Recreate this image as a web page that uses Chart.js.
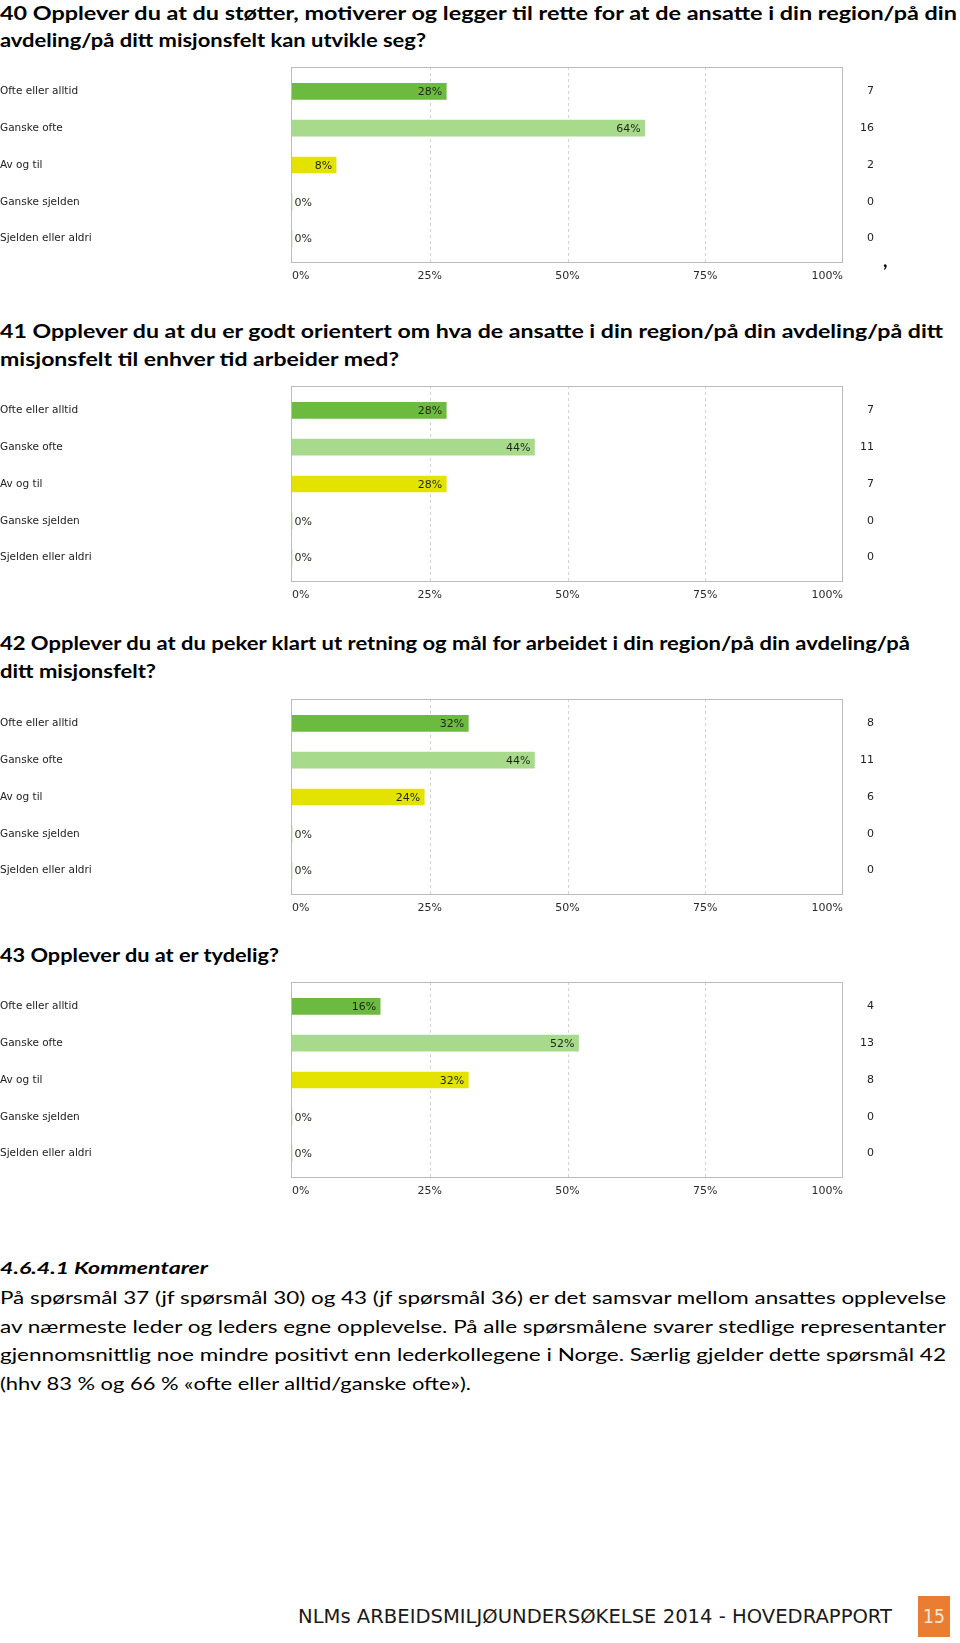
<!DOCTYPE html>
<html lang="no">
<head>
<meta charset="utf-8">
<title>NLMs arbeidsmiljøundersøkelse 2014 - spørsmål 40-43</title>
<script src="https://cdn.jsdelivr.net/npm/chart.js@4.4.1/dist/chart.umd.min.js"></script>
<style>
  html, body { margin: 0; padding: 0; background: #fff; }
  body { position: relative; width: 960px; height: 1643px; overflow: hidden; font-family: Lato, "Open Sans", sans-serif; color: #000; }
  .ln { position: absolute; white-space: nowrap; line-height: 0; width: max-content; transform-origin: 0 0; }
  .tt { font-weight: 700; font-size: 19px; }
  .hd { font-weight: 700; font-style: italic; font-size: 17.5px; }
  .tx { font-size: 17px; }
  .ft { font-family: "DejaVu Sans", sans-serif; font-size: 19px; color: #1a1a1a; }
  .box { position: absolute; left: 918px; top: 1596px; width: 32px; height: 41px; background: #e97d31; }
  canvas { position: absolute; left: 0; }
</style>
</head>
<body>

<div class="ln tt" style="left:0;top:13.4px" data-w="957">40 Opplever du at du støtter, motiverer og legger til rette for at de ansatte i din region/på din</div>
<div class="ln tt" style="left:0;top:40.4px" data-w="426">avdeling/på ditt misjonsfelt kan utvikle seg?</div>
<canvas id="c40" width="960" height="235" style="top:57px"></canvas>
<div class="ln tt" style="left:883px;top:259.6px">,</div>

<div class="ln tt" style="left:0;top:331px" data-w="943">41 Opplever du at du er godt orientert om hva de ansatte i din region/på din avdeling/på ditt</div>
<div class="ln tt" style="left:0;top:358.6px" data-w="399">misjonsfelt til enhver tid arbeider med?</div>
<canvas id="c41" width="960" height="235" style="top:376px"></canvas>

<div class="ln tt" style="left:0;top:642.6px" data-w="910">42 Opplever du at du peker klart ut retning og mål for arbeidet i din region/på din avdeling/på</div>
<div class="ln tt" style="left:0;top:671px" data-w="156">ditt misjonsfelt?</div>
<canvas id="c42" width="960" height="235" style="top:689px"></canvas>

<div class="ln tt" style="left:0;top:955px" data-w="279">43 Opplever du at er tydelig?</div>
<canvas id="c43" width="960" height="235" style="top:972px"></canvas>

<div class="ln hd" style="left:0;top:1268.2px" data-w="208">4.6.4.1 Kommentarer</div>
<div class="ln tx" style="left:0;top:1298px" data-w="946">På spørsmål 37 (jf spørsmål 30) og 43 (jf spørsmål 36) er det samsvar mellom ansattes opplevelse</div>
<div class="ln tx" style="left:0;top:1326.5px" data-w="946">av nærmeste leder og leders egne opplevelse. På alle spørsmålene svarer stedlige representanter</div>
<div class="ln tx" style="left:0;top:1355px" data-w="946">gjennomsnittlig noe mindre positivt enn lederkollegene i Norge. Særlig gjelder dette spørsmål 42</div>
<div class="ln tx" style="left:0;top:1383.5px" data-w="471">(hhv 83 % og 66 % «ofte eller alltid/ganske ofte»).</div>

<div class="ln ft" style="left:298px;top:1615.7px" data-w="594">NLMs ARBEIDSMILJØUNDERSØKELSE 2014 - HOVEDRAPPORT</div>
<div class="box"></div>
<div class="ln ft" style="left:922.5px;top:1615.7px;color:#fbe6d6" data-w="22">15</div>

<script>
const categories = ["Ofte eller alltid", "Ganske ofte", "Av og til", "Ganske sjelden", "Sjelden eller aldri"];
const tickLabels = ["0%", "25%", "50%", "75%", "100%"];

// prosent og antall svar per spørsmål
const q40Percent = [28, 64, 8, 0, 0];
const q40Count = [7, 16, 2, 0, 0];
const q41Percent = [28, 44, 28, 0, 0];
const q41Count = [7, 11, 7, 0, 0];
const q42Percent = [32, 44, 24, 0, 0];
const q42Count = [8, 11, 6, 0, 0];
const q43Percent = [16, 52, 32, 0, 0];
const q43Count = [4, 13, 8, 0, 0];

const barColors = ["#6dba40", "#a8da8b", "#e4e300", "#a8da8b", "#a8da8b"];

Chart.defaults.font.family = "'DejaVu Sans', sans-serif";
Chart.defaults.font.size = 11;

// ramme rundt plottet + stiplede linjer, litt høyere enn selve chartArea
const framePlugin = {
  id: "frame",
  beforeDatasetsDraw(chart) {
    const { ctx, chartArea: a, scales: { x } } = chart;
    const top = a.top - 6, bottom = a.bottom + 5;
    ctx.save();
    ctx.lineWidth = 1;
    ctx.strokeStyle = "#d4d4d4";
    ctx.setLineDash([3, 3]);
    x.ticks.slice(1, -1).forEach(t => {
      const px = Math.round(x.getPixelForValue(t.value)) + 0.5;
      ctx.beginPath();
      ctx.moveTo(px, top);
      ctx.lineTo(px, bottom);
      ctx.stroke();
    });
    ctx.setLineDash([]);
    ctx.strokeStyle = "#bbbbbb";
    const l = Math.round(a.left), r = Math.round(a.right);
    ctx.strokeRect(l - 0.5, top + 0.5, r - l, bottom - top);
    ctx.restore();
  }
};

const valueLabels = {
  id: "valueLabels",
  afterDatasetsDraw(chart) {
    const { ctx } = chart;
    const ds = chart.data.datasets[0];
    ctx.save();
    ctx.font = "11px 'DejaVu Sans'";
    ctx.fillStyle = "#1e2618";
    ctx.textBaseline = "middle";
    chart.getDatasetMeta(0).data.forEach((bar, i) => {
      const v = ds.data[i];
      if (v > 0) {
        ctx.textAlign = "right";
        ctx.fillText(v + "%", bar.x - 4, bar.y + 1);
      } else {
        ctx.textAlign = "left";
        ctx.fillText(v + "%", bar.base + 2.5, bar.y + 1);
      }
    });
    ctx.restore();
  }
};

function makeChart(id, percent, count) {
  return new Chart(document.getElementById(id), {
    type: "bar",
    data: {
      labels: categories,
      datasets: [{
        data: percent,
        backgroundColor: barColors,
        barThickness: 16,
        borderWidth: 0
      }]
    },
    options: {
      indexAxis: "y",
      responsive: false,
      animation: false,
      devicePixelRatio: 1,
      layout: { padding: { top: 16, right: 86, bottom: 0, left: 0 } },
      plugins: { legend: { display: false }, tooltip: { enabled: false } },
      scales: {
        x: {
          type: "linear",
          min: 0,
          max: 100,
          grid: { display: false },
          border: { display: false },
          ticks: {
            stepSize: 25,
            align: "inner",
            padding: 4.5,
            color: "#2a2a2a",
            font: { size: 11 },
            callback: (v, i) => tickLabels[i]
          },
          afterFit: s => { s.height = 35; }
        },
        y: {
          grid: { display: false },
          border: { display: false },
          ticks: { crossAlign: "far", padding: 0, color: "#222", font: { size: 10.5 } },
          afterFit: s => { s.width = 292; }
        },
        y2: {
          type: "category",
          position: "right",
          labels: count.map(String),
          offset: true,
          grid: { display: false },
          border: { display: false },
          ticks: { crossAlign: "far", color: "#222", font: { size: 11 } },
          afterFit: s => { s.width = 31; }
        }
      }
    },
    plugins: [framePlugin, valueLabels]
  });
}

makeChart("c40", q40Percent, q40Count);
makeChart("c41", q41Percent, q41Count);
makeChart("c42", q42Percent, q42Count);
makeChart("c43", q43Percent, q43Count);

// strekk tekstlinjene til samme bredde som i originalen
function fitLines() {
  document.querySelectorAll("[data-w]").forEach(el => {
    el.style.transform = "none";
    const w = el.getBoundingClientRect().width;
    if (w > 0) el.style.transform = "scaleX(" + (parseFloat(el.dataset.w) / w) + ")";
  });
}
fitLines();
document.fonts.ready.then(fitLines);
</script>
</body>
</html>
